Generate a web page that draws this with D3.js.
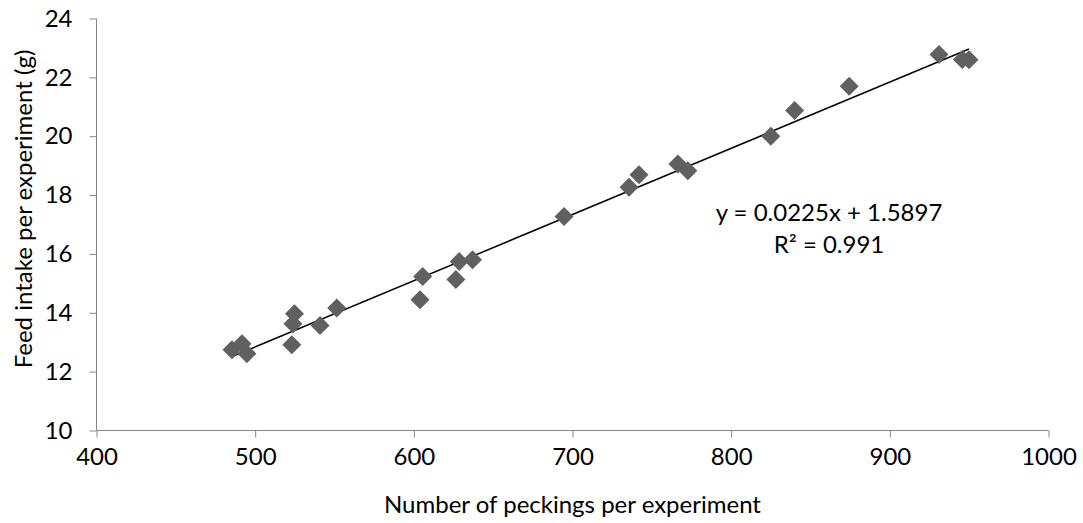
<!DOCTYPE html>
<html>
<head>
<meta charset="utf-8">
<script src="https://cdn.jsdelivr.net/npm/d3@7"></script>
<style>
  body { margin: 0; background: #fff; }
  svg text { font-family: Lato, "Open Sans", sans-serif; fill: #000; }
</style>
</head>
<body>
<div id="chart"></div>
<script>
// pecking counts and feed intake
var peckings = [485.4, 491.7, 494.8, 523.1, 523.8, 524.8, 540.9, 551.4, 603.9, 605.6,
                626.5, 628.6, 637.0, 694.7, 735.6, 741.9, 766.4, 772.7, 825.0, 840.0,
                874.4, 931.0, 945.7, 949.9];
var intake = [12.74, 12.95, 12.61, 12.91, 13.63, 13.97, 13.57, 14.16, 14.44, 15.23,
              15.13, 15.74, 15.80, 17.27, 18.27, 18.69, 19.06, 18.83, 20.00, 20.87,
              21.70, 22.78, 22.61, 22.60];
var xTicks = [400, 500, 600, 700, 800, 900, 1000];
var yTicks = [10, 12, 14, 16, 18, 20, 22, 24];
var slope = 0.0225, intercept = 1.5897, r2 = 0.991;

var W = 1083, H = 523;
var margin = {top: 18.5, right: 1048.5, bottom: 430.5, left: 96.5};
var fontSize = 24;

var svg = d3.select("#chart").append("svg")
    .attr("width", W)
    .attr("height", H);

var x = d3.scaleLinear().domain([400, 1000]).range([margin.left, margin.right]);
var y = d3.scaleLinear().domain([10, 24]).range([margin.bottom, margin.top]);

var xAxis = d3.axisBottom(x).tickValues(xTicks).tickFormat(d3.format("d")).tickSize(7).tickPadding(10);
var yAxis = d3.axisLeft(y).tickValues(yTicks).tickFormat(d3.format("d")).tickSize(7).tickPadding(17);

var gx = svg.append("g")
    .attr("transform", "translate(0," + margin.bottom + ")")
    .call(xAxis);
var gy = svg.append("g")
    .attr("transform", "translate(" + margin.left + ",0)")
    .call(yAxis);

[gx, gy].forEach(function(g) {
  g.select(".domain").attr("stroke", "#868686");
  g.selectAll(".tick line").attr("stroke", "#868686");
  g.selectAll(".tick text").attr("font-size", fontSize).attr("font-family", "Lato, sans-serif").attr("fill", "#000");
});
// drop the outer tick stubs of the domain path
gx.select(".domain").attr("d", "M" + margin.left + ",0H" + margin.right);
gy.select(".domain").attr("d", "M0," + margin.bottom + "V" + margin.top);

// trend line from the stated fit
var ext = d3.extent(peckings);
svg.append("line")
    .attr("x1", x(ext[0])).attr("y1", y(slope * ext[0] + intercept))
    .attr("x2", x(ext[1])).attr("y2", y(slope * ext[1] + intercept))
    .attr("stroke", "#000")
    .attr("stroke-width", 1.5);

var diamond = "M0,-9.5L9.5,0L0,9.5L-9.5,0Z";
svg.append("g").selectAll("path")
    .data(peckings)
  .enter().append("path")
    .attr("d", diamond)
    .attr("transform", function(d, i) { return "translate(" + x(d) + "," + y(intake[i]) + ")"; })
    .attr("fill", "#606060");

// equation label
var eq = svg.append("text")
    .attr("x", 829)
    .attr("y", 221)
    .attr("text-anchor", "middle")
    .attr("font-size", fontSize);
eq.append("tspan").text("y = " + slope + "x + " + intercept);
eq.append("tspan").attr("x", 829).attr("dy", 32).text("R² = " + r2);

// axis titles
svg.append("text")
    .attr("x", (margin.left + margin.right) / 2)
    .attr("y", 513)
    .attr("text-anchor", "middle")
    .attr("font-size", fontSize)
    .text("Number of peckings per experiment");

svg.append("text")
    .attr("transform", "translate(32,209) rotate(-90)")
    .attr("text-anchor", "middle")
    .attr("font-size", fontSize)
    .text("Feed intake per experiment (g)");
</script>
</body>
</html>
